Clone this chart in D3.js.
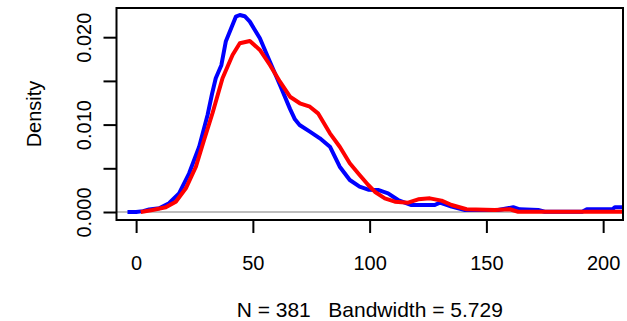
<!DOCTYPE html>
<html>
<head>
<meta charset="utf-8">
<script src="https://cdn.jsdelivr.net/npm/d3@7"></script>
<style>
  body { margin: 0; background: #fff; }
  text { font-family: "Liberation Sans", Arial, sans-serif; font-size: 20px; fill: #000; }
</style>
</head>
<body>
<svg id="chart" width="627" height="321"></svg>
<script>
// values (x, density)
var blueX = [-3.7, 0, 3, 5.6, 9.9, 14.1, 18.4, 22.7, 27, 30.6, 32.5, 34.1, 36.5, 38.4, 42.7, 44.4, 46.5, 48.7, 53, 57.3, 61.6, 65.9, 68, 70, 74.4, 78.7, 83, 87.2, 91.5, 95.7, 99.4, 103.6, 107.9, 112.2, 117.9, 127.9, 130.1, 135.1, 140.8, 155, 161.5, 164.3, 172.2, 175, 191, 193, 204, 205, 212];
var blueY = [0, 0, 0.0001, 0.0003, 0.00042, 0.001, 0.00214, 0.00443, 0.00747, 0.0111, 0.0135, 0.0153, 0.0168, 0.0195, 0.02235, 0.02254, 0.0224, 0.02178, 0.01987, 0.0172, 0.01453, 0.0118, 0.0106, 0.00995, 0.00919, 0.00843, 0.00747, 0.00518, 0.00366, 0.0029, 0.00255, 0.00252, 0.00214, 0.00137, 0.0008, 0.0008, 0.00107, 0.00061, 0.00023, 0.00023, 0.00054, 0.00031, 0.00023, 0.00003, 0.00003, 0.00031, 0.00031, 0.00054, 0.00054];

var redX = [2, 7, 12.7, 17, 21.3, 25.6, 29.1, 32.7, 37, 41.3, 44.4, 48.7, 53, 57.3, 61.6, 65.9, 70.1, 74.4, 77.9, 83, 87.2, 91.5, 95.7, 99.4, 102.2, 106.5, 110.8, 116.5, 120.8, 125.8, 130.8, 135.1, 141.5, 153.6, 160, 163.6, 212];
var redY = [0, 0.00023, 0.00054, 0.00118, 0.00271, 0.00518, 0.00824, 0.0113, 0.0153, 0.01796, 0.0193, 0.01957, 0.01854, 0.01682, 0.01491, 0.01319, 0.01244, 0.01205, 0.01129, 0.009, 0.00747, 0.00557, 0.00423, 0.00309, 0.00232, 0.00156, 0.00118, 0.00107, 0.00145, 0.00156, 0.0013, 0.0008, 0.00031, 0.00023, 0.00031, 0.00003, 0.00003];

var xTicks = [0, 50, 100, 150, 200];
var yTicks = [0, 0.005, 0.010, 0.015, 0.020];
var yLabels = ["0.000", "", "0.010", "", "0.020"];

var plotLeft = 116.5, plotRight = 623, plotTop = 8, plotBottom = 220;

var svg = d3.select("#chart");

var x = d3.scaleLinear().domain([-8.4, 208.5]).range([plotLeft, plotRight]);
var y = d3.scaleLinear().domain([-0.000915, 0.02334]).range([plotBottom, plotTop]);

svg.append("clipPath").attr("id", "plotclip")
    .append("rect")
    .attr("x", plotLeft).attr("y", plotTop)
    .attr("width", plotRight - plotLeft).attr("height", plotBottom - plotTop);

// zero line
svg.append("line")
    .attr("x1", plotLeft).attr("x2", plotRight)
    .attr("y1", y(0)).attr("y2", y(0))
    .attr("stroke", "#bebebe")
    .attr("stroke-width", 2);

var line = d3.line()
    .x(d => x(d[0]))
    .y(d => y(d[1]));

var plot = svg.append("g").attr("clip-path", "url(#plotclip)");

plot.append("path")
    .datum(d3.zip(blueX, blueY))
    .attr("d", line)
    .attr("fill", "none")
    .attr("stroke", "#0000ff")
    .attr("stroke-width", 4)
    .attr("stroke-linejoin", "round");

plot.append("path")
    .datum(d3.zip(redX, redY))
    .attr("d", line)
    .attr("fill", "none")
    .attr("stroke", "#ff0000")
    .attr("stroke-width", 4)
    .attr("stroke-linejoin", "round");

// box
svg.append("rect")
    .attr("x", plotLeft).attr("y", plotTop)
    .attr("width", plotRight - plotLeft).attr("height", plotBottom - plotTop)
    .attr("fill", "none")
    .attr("stroke", "#000")
    .attr("stroke-width", 2);

// x axis
var xAxis = svg.append("g")
    .attr("transform", `translate(0,${plotBottom})`)
    .call(d3.axisBottom(x).tickValues(xTicks).tickSize(13).tickSizeOuter(0).tickFormat(d3.format("d")));
xAxis.select(".domain").remove();
xAxis.selectAll(".tick line").attr("stroke-width", 2);
xAxis.selectAll(".tick text")
    .attr("y", 49.5).attr("dy", null)
    .style("font-family", "'Liberation Sans', Arial, sans-serif")
    .style("font-size", "20px");

// y axis
var yAxis = svg.append("g")
    .attr("transform", `translate(${plotLeft},0)`)
    .call(d3.axisLeft(y).tickValues(yTicks).tickSize(13).tickSizeOuter(0).tickFormat((d, i) => yLabels[i]));
yAxis.select(".domain").remove();
yAxis.selectAll(".tick line").attr("stroke-width", 2);
yAxis.selectAll(".tick text")
    .attr("x", null).attr("dy", null)
    .attr("text-anchor", "middle")
    .attr("transform", "translate(-25.5,0) rotate(-90)")
    .style("font-family", "'Liberation Sans', Arial, sans-serif")
    .style("font-size", "20px");

// titles
svg.append("text")
    .attr("transform", `translate(41,${(plotTop + plotBottom) / 2}) rotate(-90)`)
    .attr("text-anchor", "middle")
    .text("Density");

svg.append("text")
    .attr("x", (plotLeft + plotRight) / 2)
    .attr("y", 317)
    .attr("text-anchor", "middle")
    .style("white-space", "pre")
    .style("font-size", "21px")
    .text("N = 381   Bandwidth = 5.729");
</script>
</body>
</html>
